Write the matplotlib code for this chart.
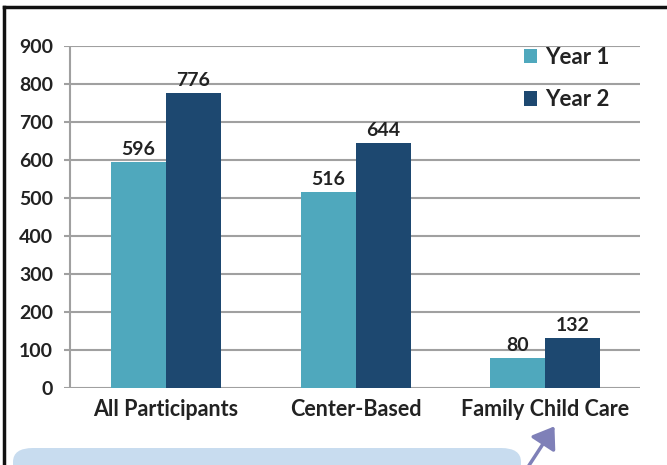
import matplotlib
matplotlib.use('Agg')
import matplotlib.pyplot as plt
from matplotlib.patches import FancyBboxPatch, FancyArrowPatch
from matplotlib.lines import Line2D
import numpy as np

plt.rcParams['font.family'] = ['Lato', 'DejaVu Sans']

categories = ['All Participants', 'Center-Based', 'Family Child Care']
year1 = [596, 516, 80]
year2 = [776, 644, 132]
series_names = ['Year 1', 'Year 2']
yticks = list(range(0, 1000, 100))

c1 = '#4fa8bd'
c2 = '#1d4870'
grid_c = '#a0a0a0'
txt_c = '#222222'

fig = plt.figure(figsize=(6.67, 4.65), dpi=100)
ax = fig.add_axes([64/667, 1 - 388/465, 576/667, 342/465])

x = np.arange(len(categories))
w = 0.29
b1 = ax.bar(x - w/2, year1, width=w, color=c1, zorder=3, label=series_names[0])
b2 = ax.bar(x + w/2, year2, width=w, color=c2, zorder=3, label=series_names[1])

for bars, vals in [(b1, year1), (b2, year2)]:
    for bar, v in zip(bars, vals):
        ax.text(bar.get_x() + bar.get_width()/2, v + 10, str(v), ha='center',
                va='bottom', fontsize=14, fontweight='bold', color=txt_c)

ax.set_xlim(-0.537, 2.5)
ax.set_ylim(0, 900)
ax.set_yticks(yticks)
ax.set_yticklabels([str(t) for t in yticks], fontsize=14, fontweight='bold', color=txt_c)
ax.set_xticks(x)
ax.set_xticklabels(categories, fontsize=15.5, fontweight='bold', color=txt_c)
ax.tick_params(axis='both', length=0)
ax.tick_params(axis='y', pad=8)
ax.tick_params(axis='x', pad=8)
ax.grid(axis='y', color=grid_c, linewidth=1.5, zorder=0)
for s in ax.spines.values():
    s.set_visible(False)
ax.axvline(-0.505, color=grid_c, linewidth=1.5, zorder=1)

leg = ax.legend(loc='upper right', bbox_to_anchor=(0.982, 1.055), frameon=False,
                fontsize=16, handlelength=0.6, handleheight=0.6, handletextpad=0.35,
                labelspacing=0.95)
for t in leg.get_texts():
    t.set_fontweight('bold')
    t.set_color(txt_c)

# outer frame
fig.add_artist(Line2D([4/667, 4/667], [0, 1 - 7/465], color='#111111', linewidth=2.5))
fig.add_artist(Line2D([4/667, 1], [1 - 7/465, 1 - 7/465], color='#111111', linewidth=2.5))

# callout box and arrow at the bottom
box = FancyBboxPatch((13/667, -20/465), 508/667, 37/465,
                     boxstyle='round,pad=0,rounding_size=0.03',
                     transform=fig.transFigure, facecolor='#c8dcef',
                     edgecolor='none', zorder=1)
fig.add_artist(box)
arr = FancyArrowPatch((526/667, 1 - 470/465), (556/667, 1 - 424/465),
                      transform=fig.transFigure, arrowstyle='-|>,head_length=5,head_width=3.5',
                      color='#7f80b8', linewidth=2.5, mutation_scale=2.5)
fig.add_artist(arr)

fig.savefig('out.png', dpi=100)
